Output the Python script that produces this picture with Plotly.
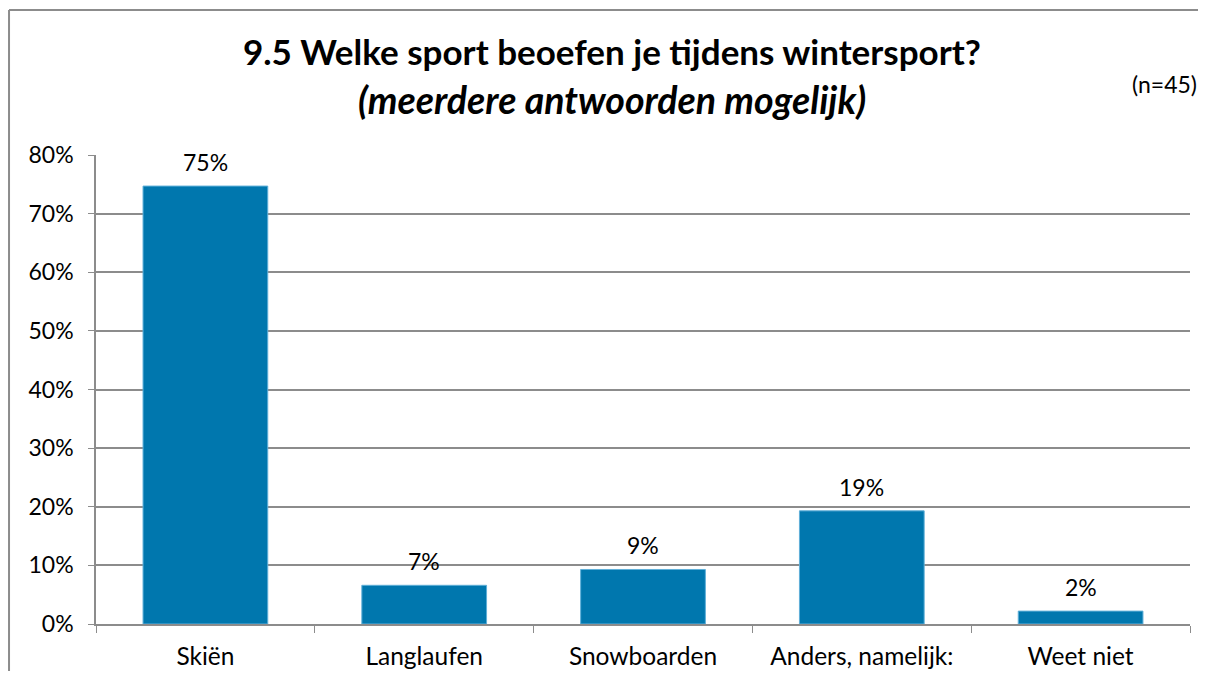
import plotly.graph_objects as go

categories = ["Skiën", "Langlaufen", "Snowboarden", "Anders, namelijk:", "Weet niet"]
values = [74.7, 6.6, 9.3, 19.3, 2.2]
labels = ["75%", "7%", "9%", "19%", "2%"]
y_ticks = [0, 10, 20, 30, 40, 50, 60, 70, 80]
y_tick_labels = [f"{v}%" for v in y_ticks]

title_line1 = "9.5 Welke sport beoefen je tijdens wintersport?"
title_line2 = "(meerdere antwoorden mogelijk)"
n_label = "(n=45)"

FONT = "Lato"
BAR = "#0077AE"
GRID = "#8C8C8C"
FS = 23

fig = go.Figure(go.Bar(
    x=categories, y=values,
    cliponaxis=False, width=0.57,
    marker=dict(color=BAR, line=dict(color="#5FAFD8", width=1)),
))

annotations = [
    dict(x=c, y=v, text=t, xref="x", yref="y", showarrow=False,
         yanchor="bottom", xanchor="center", yshift=8,
         font=dict(size=FS))
    for c, v, t in zip(categories, values, labels)
]
annotations += [
    dict(text=f"<b>{title_line1}</b>", xref="paper", yref="paper",
         x=0.4717, y=1.309, yanchor="middle", xanchor="center",
         font=dict(size=35), showarrow=False, yshift=-41),
    dict(text=f"<b><i>{title_line2}</i></b>", xref="paper", yref="paper",
         x=0.4717, y=1.309, yanchor="middle", xanchor="center",
         font=dict(size=37.5), showarrow=False, yshift=-89),
    dict(text=n_label, xref="paper", yref="paper",
         x=1.0, y=1.309, xanchor="center", yanchor="middle",
         xshift=-26, yshift=-74, font=dict(size=23), showarrow=False),
]

fig.update_layout(
    width=1190, height=663,
    margin=dict(l=88, r=8, t=147, b=47),
    paper_bgcolor="white", plot_bgcolor="white",
    showlegend=False,
    font=dict(family=FONT, size=FS, color="#000000"),
    xaxis=dict(showline=True, linecolor=GRID, linewidth=1.5,
               ticks="outside", tickson="boundaries", ticklen=7, tickcolor=GRID,
               tickfont=dict(size=24.5), showgrid=False, ticklabelstandoff=10,
               automargin=False),
    yaxis=dict(range=[0, 80], tickvals=y_ticks, ticktext=y_tick_labels,
               showline=True, linecolor=GRID, linewidth=1.5,
               ticks="outside", ticklen=6, tickcolor=GRID,
               gridcolor=GRID, gridwidth=1.5, zeroline=False,
               tickfont=dict(size=FS), ticklabelstandoff=10,
               automargin=False),
    annotations=annotations,
    shapes=[
        dict(type="line", xref="paper", yref="paper",
             x0=-0.0795, x1=-0.0795, y0=-0.3, y1=1.309,
             line=dict(color="#8C8C8C", width=2), layer="below"),
        dict(type="line", xref="paper", yref="paper",
             x0=-0.0795, x1=1.2, y0=1.309, y1=1.309,
             line=dict(color="#8C8C8C", width=2), layer="below"),
    ],
)

fig.write_html("out.html")
